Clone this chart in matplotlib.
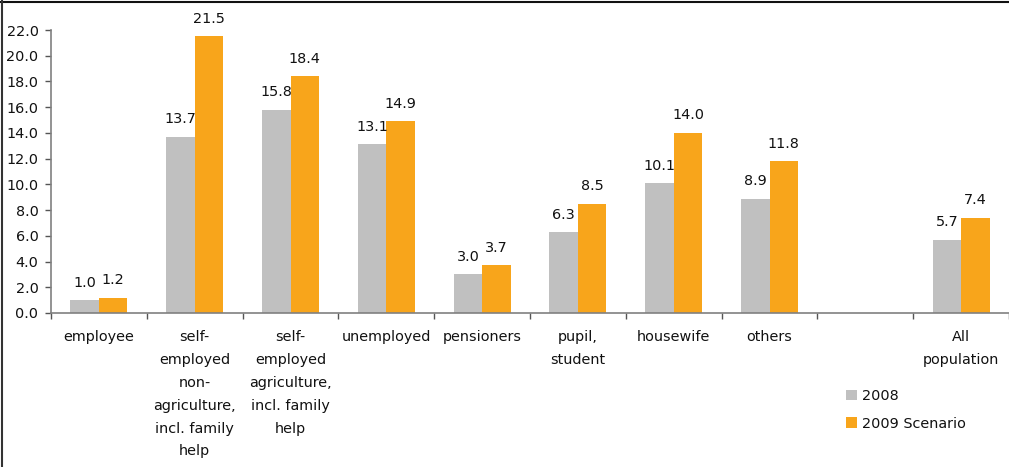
import matplotlib
matplotlib.use("Agg")
import matplotlib.pyplot as plt
from matplotlib.lines import Line2D
from matplotlib.patches import Patch
import numpy as np

plt.rcParams['font.family'] = ['DejaVu Sans']

categories = [
    "employee",
    "self-\nemployed\nnon-\nagriculture,\nincl. family\nhelp",
    "self-\nemployed\nagriculture,\nincl. family\nhelp",
    "unemployed",
    "pensioners",
    "pupil,\nstudent",
    "housewife",
    "others",
    "",
    "All\npopulation",
]
values_2008 = [1.0, 13.7, 15.8, 13.1, 3.0, 6.3, 10.1, 8.9, None, 5.7]
values_2009 = [1.2, 21.5, 18.4, 14.9, 3.7, 8.5, 14.0, 11.8, None, 7.4]
series_names = ["2008", "2009 Scenario"]
yticks = [0, 2, 4, 6, 8, 10, 12, 14, 16, 18, 20, 22]

GREY = "#C0C0C0"
ORANGE = "#F8A51B"
FS = 10.4
TXT = "#111111"

fig = plt.figure(figsize=(10.09, 4.67), dpi=100)
ax = fig.add_axes([51 / 1009, 1 - 313 / 467, 1 - 51 / 1009, (313 - 30) / 467])

x = np.arange(len(categories))
w = 0.298
for vals, off, col in ((values_2008, -w / 2, GREY), (values_2009, w / 2, ORANGE)):
    xs = [xi + off for xi, v in zip(x, vals) if v is not None]
    vs = [v for v in vals if v is not None]
    bars = ax.bar(xs, vs, width=w, color=col, linewidth=0, zorder=2)
    for b, v in zip(bars, vs):
        ax.annotate(f"{v:.1f}", (b.get_x() + b.get_width() / 2, v),
                    xytext=(0, 7.5), textcoords="offset points",
                    ha="center", va="bottom", fontsize=FS, color=TXT)

ax.set_xlim(-0.5, len(categories) - 0.5)
ax.set_ylim(0, 22)
ax.set_yticks(yticks)
ax.set_yticklabels([f"{t:.1f}" for t in yticks], fontsize=FS, color=TXT)

# category ticks sit on the boundaries, labels in the middle of each slot
ax.set_xticks(np.arange(len(categories) + 1) - 0.5)
ax.set_xticklabels([])
ax.set_xticks(x, minor=True)
ax.set_xticklabels(categories, minor=True, fontsize=FS, linespacing=1.8,
                   va="top", ha="center", color=TXT)
ax.tick_params(axis="x", which="minor", length=0, pad=12.5)
ax.tick_params(axis="x", which="major", length=4, width=1, color="#555555", direction="out")
ax.tick_params(axis="y", length=4, width=1, color="#555555", direction="out", pad=5)

for s in ("top", "right"):
    ax.spines[s].set_visible(False)
for s in ("left", "bottom"):
    ax.spines[s].set_color("#808080")
    ax.spines[s].set_linewidth(1.2)

handles = [Patch(facecolor=GREY, edgecolor="none"), Patch(facecolor=ORANGE, edgecolor="none")]
fig.legend(handles, series_names, loc="upper left",
           bbox_to_anchor=(846 / 1009, 1 - 389 / 467), frameon=False,
           fontsize=FS, handlelength=0.75, handleheight=0.75,
           handletextpad=0.35, labelspacing=0.95, borderpad=0, borderaxespad=0,
           labelcolor=TXT)

# frame edges along the top and left of the figure
fig.add_artist(Line2D([0, 1], [1 - 1.5 / 467] * 2, transform=fig.transFigure,
                      color="#111111", linewidth=1.5))
fig.add_artist(Line2D([1.5 / 1009] * 2, [0, 1], transform=fig.transFigure,
                      color="#333333", linewidth=1.5))

fig.savefig("out.png", dpi=100)
